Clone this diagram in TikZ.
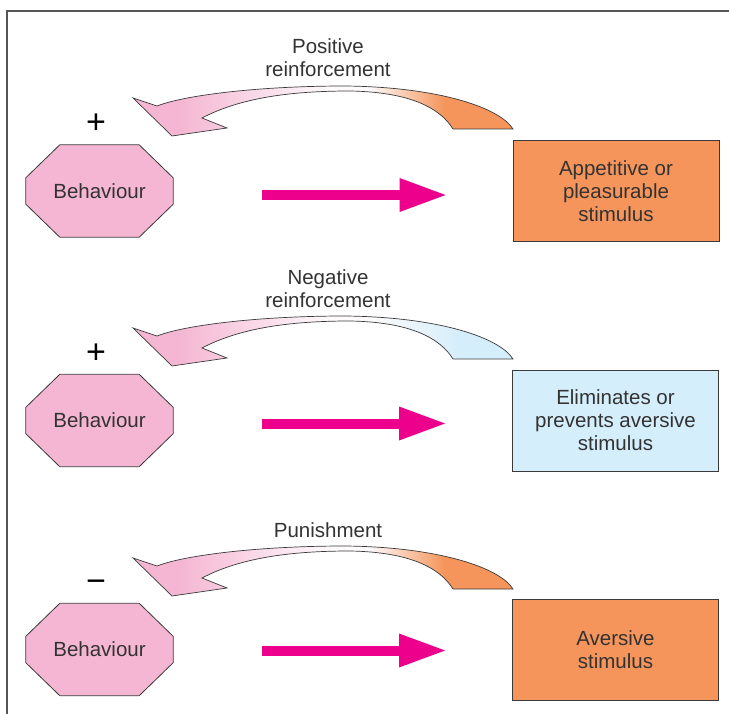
\documentclass[tikz,border=0pt]{standalone}
\usepackage{fontspec}
\setmainfont{Liberation Sans}
\usetikzlibrary{arrows.meta,backgrounds}
\definecolor{octpink}{HTML}{F4B6D2}
\definecolor{stimorange}{HTML}{F5955B}
\definecolor{stimblue}{HTML}{D5EEFB}
\definecolor{arrowmag}{HTML}{EC008C}
\definecolor{txtgray}{HTML}{333333}
\definecolor{linegray}{HTML}{3A3A3A}
\definecolor{framegray}{HTML}{555555}
\colorlet{fadewhite}{white!94!octpink}
\pgfdeclarehorizontalshading{pinktoorange}{100bp}{color(0bp)=(octpink); color(31bp)=(octpink); color(51bp)=(fadewhite); color(56bp)=(fadewhite); color(66bp)=(stimorange); color(100bp)=(stimorange)}
\pgfdeclarehorizontalshading{pinktoblue}{100bp}{color(0bp)=(octpink); color(31bp)=(octpink); color(51bp)=(fadewhite); color(56bp)=(fadewhite); color(68bp)=(stimblue); color(100bp)=(stimblue)}
\tikzset{
  txt/.style={text=txtgray, font=\fontsize{20.5}{23}\selectfont, align=center},
  octnode/.style={minimum width=147pt, minimum height=92pt, inner sep=0pt, txt},
  octshape/.style={draw=linegray, line width=0.8pt, fill=octpink},
  stimbox/.style={draw=linegray, line width=0.9pt, minimum width=206pt, minimum height=101pt, inner sep=0pt, txt},
  bigarrow/.style={draw=arrowmag, line width=10pt, -{Triangle[length=46pt,width=34pt,line width=0pt]}, shorten <=89pt, shorten >=67pt},
  curvearrow/.style={draw=linegray, line width=0.7pt, line join=miter, shade, shading=#1},
  sign/.style={text=black, font=\fontsize{34}{34}\selectfont, inner sep=0pt}
}
\newcommand\octagonof[1]{%
  \draw[octshape] ([xshift=34pt]#1.north west) -- ([xshift=-34pt]#1.north east)
    -- ([yshift=-33pt]#1.north east) -- ([yshift=33pt]#1.south east)
    -- ([xshift=-34pt]#1.south east) -- ([xshift=34pt]#1.south west)
    -- ([yshift=33pt]#1.south west) -- ([yshift=-33pt]#1.north west) -- cycle;}
\newcommand\curvedarrowpath{%
  (513,129) .. controls (500,108) and (440,87) .. (345,86)
  .. controls (260,86) and (185,95) .. (157,106)
  -- (133,98) -- (172,136) -- (227,128) -- (202,118)
  .. controls (240,98) and (290,91) .. (350,91)
  .. controls (410,92) and (440,108) .. (453,129) -- cycle}
\begin{document}
\begin{tikzpicture}[x=1pt,y=-1pt]
\useasboundingbox (0,0) rectangle (729,714);
% frame
\draw[framegray, line width=1.5pt] (729,11) -- (7,11) -- (7,714);

% nodes
\node[octnode] (b1) at (99.5,191) {Behaviour};
\node[octnode] (b2) at (99.5,420.5) {Behaviour};
\node[octnode] (b3) at (99.5,649.5) {Behaviour};
\begin{scope}[on background layer]
  \octagonof{b1}
  \octagonof{b2}
  \octagonof{b3}
\end{scope}

\node[stimbox, fill=stimorange] (s1) at (616,191) {Appetitive or\\pleasurable\\stimulus};
\node[stimbox, fill=stimblue] (s2) at (615.5,420.5) {Eliminates or\\prevents aversive\\stimulus};
\node[stimbox, fill=stimorange] (s3) at (615.5,649.5) {Aversive\\stimulus};

% signs
\node[sign] (p1) at (96,124) {+};
\node[sign] (p2) at (96,354) {+};
\node[sign] (p3) at (96,586) {\char"2212};

% labels
\node[txt] (l1) at (328,58) {Positive\\reinforcement};
\node[txt] (l2) at (328,288.5) {Negative\\reinforcement};
\node[txt] (l3) at (328,530) {Punishment};

% curved arrows
\draw[curvearrow=pinktoorange] \curvedarrowpath;
\begin{scope}[shift={(0,230)}]
  \draw[curvearrow=pinktoblue] \curvedarrowpath;
\end{scope}
\begin{scope}[shift={(0,460)}]
  \draw[curvearrow=pinktoorange] \curvedarrowpath;
\end{scope}

% straight arrows
\draw[bigarrow] ([yshift=-4pt]b1.east) -- ([yshift=-4pt]s1.west);
\draw[bigarrow] ([yshift=-3pt]b2.east) -- ([yshift=-3pt]s2.west);
\draw[bigarrow] ([yshift=-1pt]b3.east) -- ([yshift=-1pt]s3.west);
\end{tikzpicture}
\end{document}
